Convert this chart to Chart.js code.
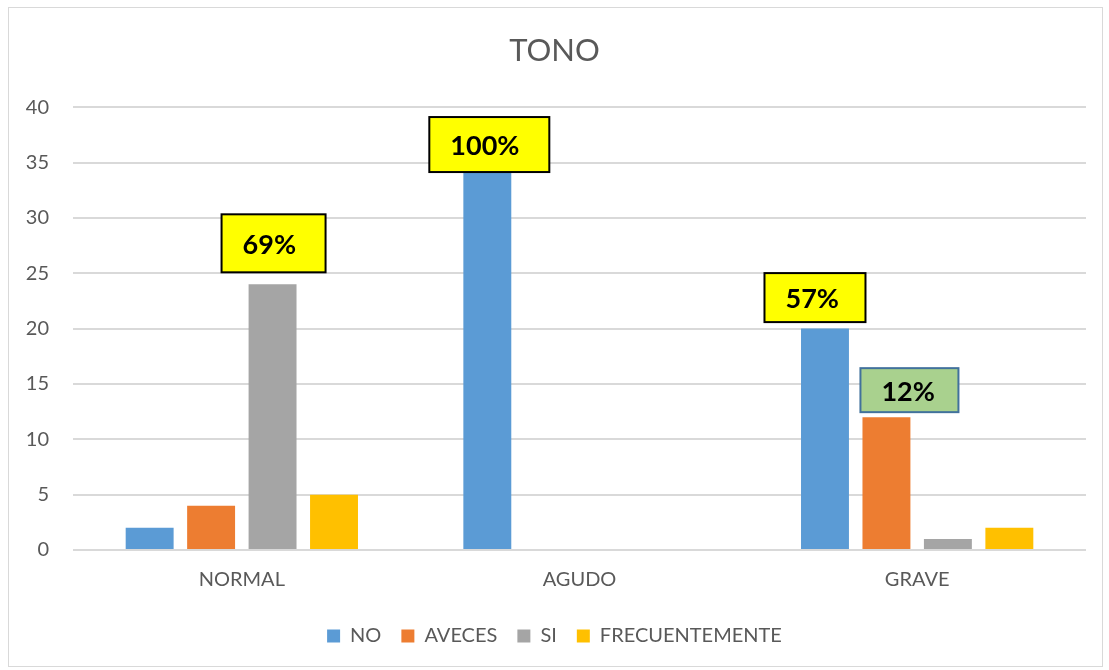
<!DOCTYPE html>
<html>
<head>
<meta charset="utf-8">
<script src="https://cdn.jsdelivr.net/npm/chart.js@4.4.0/dist/chart.umd.min.js"></script>
<style>
  html, body { margin: 0; padding: 0; background: #fff; }
  #wrap {
    position: absolute; left: 8px; top: 7px;
    width: 1095px; height: 660px;
    border: 1px solid #d9d9d9; box-sizing: border-box;
  }
</style>
</head>
<body>
<div id="wrap"><canvas id="chart"></canvas></div>
<script>
// categories and series
const categories = ['NORMAL', 'AGUDO', 'GRAVE'];
const seriesNames = ['NO', 'AVECES', 'SI', 'FRECUENTEMENTE'];
const valuesNO = [2, 35, 20];
const valuesAVECES = [4, 0, 12];
const valuesSI = [24, 0, 1];
const valuesFREC = [5, 0, 2];
const yTicks = [0, 5, 10, 15, 20, 25, 30, 35, 40];

// callout labels per series (empty = no box)
const calloutNO = ['', '100%', '57%'];
const calloutAVECES = ['', '', '12%'];
const calloutSI = ['69%', '', ''];
const calloutFREC = ['', '', ''];

const colors = ['#5b9bd5', '#ed7d31', '#a5a5a5', '#ffc000'];

// box geometry, relative to the top centre of the bar
const calloutBoxes = {
  '0:1': { dx: 2, dy: -18, w: 120, h: 55, fill: '#ffff00', stroke: '#000000' },
  '0:2': { dx: -10, dy: -31, w: 101, h: 49, fill: '#ffff00', stroke: '#000000' },
  '1:2': { dx: 23, dy: -27, w: 98, h: 44, fill: '#a9d18e', stroke: '#41719c' },
  '2:0': { dx: 1, dy: -41, w: 104, h: 58, fill: '#ffff00', stroke: '#000000' }
};

const calloutPlugin = {
  id: 'callouts',
  afterDatasetsDraw(chart) {
    const ctx = chart.ctx;
    const texts = [calloutNO, calloutAVECES, calloutSI, calloutFREC];
    texts.forEach((arr, i) => {
      const meta = chart.getDatasetMeta(i);
      arr.forEach((txt, j) => {
        if (!txt) return;
        const bar = meta.data[j];
        const b = calloutBoxes[i + ':' + j];
        const cx = bar.x + b.dx;
        const cy = bar.y + b.dy;
        const x0 = cx - b.w / 2;
        const y0 = cy - b.h / 2;
        ctx.save();
        ctx.fillStyle = b.fill;
        ctx.fillRect(x0, y0, b.w, b.h);
        ctx.lineWidth = 2;
        ctx.strokeStyle = b.stroke;
        ctx.strokeRect(x0, y0, b.w, b.h);
        ctx.fillStyle = '#000';
        ctx.font = 'bold 27px Lato';
        ctx.textAlign = 'left';
        ctx.textBaseline = 'middle';
        ctx.fillText(txt, x0 + 21, cy + 2);
        ctx.restore();
      });
    });
  }
};

const datasets = [valuesNO, valuesAVECES, valuesSI, valuesFREC].map((vals, i) => ({
  label: seriesNames[i],
  data: vals,
  backgroundColor: colors[i],
  borderWidth: 0,
  categoryPercentage: 0.728,
  barPercentage: 0.78
}));

Chart.defaults.font.family = 'Lato';
Chart.defaults.color = '#595959';

new Chart(document.getElementById('chart'), {
  type: 'bar',
  data: { labels: categories, datasets: datasets },
  options: {
    responsive: true,
    maintainAspectRatio: false,
    animation: false,
    layout: { padding: { left: 14, right: 16, top: 18, bottom: 10 } },
    plugins: {
      title: {
        display: true,
        text: 'TONO',
        font: { size: 31, weight: 'normal' },
        color: '#595959',
        padding: { top: 6, bottom: 38 }
      },
      legend: {
        position: 'bottom',
        labels: {
          boxWidth: 13,
          boxHeight: 13,
          font: { size: 20 },
          color: '#595959',
          padding: 20
        }
      },
      tooltip: { enabled: false }
    },
    scales: {
      x: {
        afterFit(scale) { scale.height = 56; },
        grid: { display: false },
        border: { display: false },
        ticks: { font: { size: 20 }, color: '#595959', padding: 10 }
      },
      y: {
        min: 0,
        max: 40,
        afterBuildTicks(scale) {
          scale.ticks = yTicks.map(v => ({ value: v }));
        },
        afterFit(scale) { scale.width = 50; },
        grid: { color: '#d9d9d9', lineWidth: 2, drawTicks: false },
        border: { display: false },
        ticks: { font: { size: 20 }, color: '#595959', padding: 24 }
      }
    }
  },
  plugins: [calloutPlugin]
});
</script>
</body>
</html>
